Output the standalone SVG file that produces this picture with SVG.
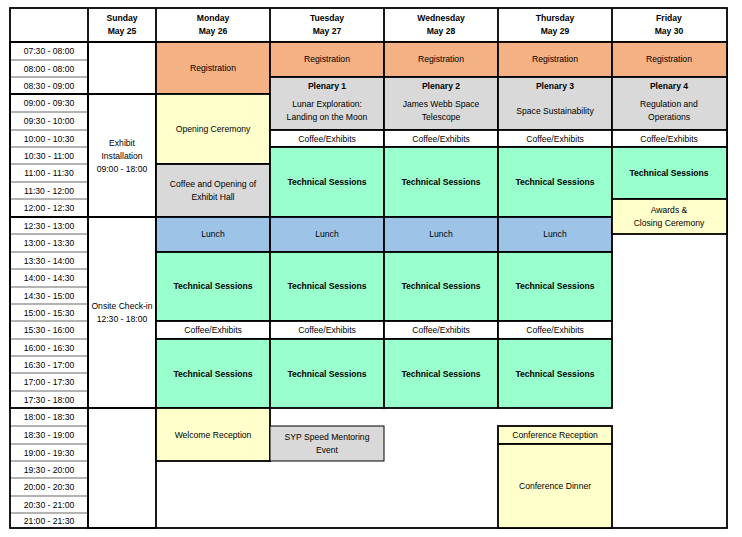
<svg xmlns="http://www.w3.org/2000/svg" width="742" height="537" viewBox="0 0 742 537">
<style>
text{font-family:"Liberation Sans",Arial,sans-serif;font-size:8.6px;fill:#000;text-anchor:middle;dominant-baseline:central}
.b{font-weight:bold}
.g{stroke:#000;stroke-width:0.6}
.ev{stroke:#000;stroke-width:1.8}
.reg{fill:#F4B183}.yel{fill:#FFFFCC}.gry{fill:#D9D9D9}.grn{fill:#99FFCC}.blu{fill:#9DC3E6}.wht{fill:#fff}
</style>
<rect x="0" y="0" width="742" height="537" fill="#fff"/>
<g id="grid">
<g class="g">
<line x1="10" y1="60" x2="88" y2="60"/><line x1="10" y1="77" x2="88" y2="77"/><line x1="10" y1="94" x2="88" y2="94"/><line x1="10" y1="112" x2="88" y2="112"/><line x1="10" y1="130" x2="88" y2="130"/><line x1="10" y1="147" x2="88" y2="147"/><line x1="10" y1="164" x2="88" y2="164"/><line x1="10" y1="182" x2="88" y2="182"/><line x1="10" y1="199" x2="88" y2="199"/><line x1="10" y1="217" x2="88" y2="217"/><line x1="10" y1="234" x2="88" y2="234"/><line x1="10" y1="252" x2="88" y2="252"/><line x1="10" y1="269" x2="88" y2="269"/><line x1="10" y1="287" x2="88" y2="287"/><line x1="10" y1="304" x2="88" y2="304"/><line x1="10" y1="321" x2="88" y2="321"/><line x1="10" y1="339" x2="88" y2="339"/><line x1="10" y1="356" x2="88" y2="356"/><line x1="10" y1="373" x2="88" y2="373"/><line x1="10" y1="391" x2="88" y2="391"/><line x1="10" y1="408" x2="88" y2="408"/><line x1="10" y1="426" x2="88" y2="426"/><line x1="10" y1="444" x2="88" y2="444"/><line x1="10" y1="461" x2="88" y2="461"/><line x1="10" y1="478" x2="88" y2="478"/><line x1="10" y1="496" x2="88" y2="496"/><line x1="10" y1="513" x2="88" y2="513"/>
</g>
<g class="ev" fill="none">
<rect x="10" y="8" width="717" height="520"/>
<line x1="10" y1="42" x2="727" y2="42"/>
<line x1="88" y1="8" x2="88" y2="528"/>
<line x1="156" y1="8" x2="156" y2="42"/><line x1="270" y1="8" x2="270" y2="42"/><line x1="384" y1="8" x2="384" y2="42"/><line x1="498" y1="8" x2="498" y2="42"/><line x1="612" y1="8" x2="612" y2="42"/>
<rect x="10" y="42" width="78" height="52"/><rect x="10" y="94" width="78" height="123"/><rect x="10" y="217" width="78" height="191"/>
<rect x="88" y="42" width="68" height="52"/><rect x="88" y="94" width="68" height="123"/><rect x="88" y="217" width="68" height="191"/><rect x="88" y="408" width="68" height="120"/>
</g>
<g class="b">
<text x="122" y="18">Sunday</text><text x="122" y="31">May 25</text>
<text x="213" y="18">Monday</text><text x="213" y="31">May 26</text>
<text x="327" y="18">Tuesday</text><text x="327" y="31">May 27</text>
<text x="441" y="18">Wednesday</text><text x="441" y="31">May 28</text>
<text x="555" y="18">Thursday</text><text x="555" y="31">May 29</text>
<text x="669" y="18">Friday</text><text x="669" y="31">May 30</text>
</g>
<g>
<text x="49" y="51">07:30 - 08:00</text><text x="49" y="68.5">08:00 - 08:00</text><text x="49" y="85.5">08:30 - 09:00</text><text x="49" y="103">09:00 - 09:30</text><text x="49" y="121">09:30 - 10:00</text><text x="49" y="138.5">10:00 - 10:30</text><text x="49" y="155.5">10:30 - 11:00</text><text x="49" y="173">11:00 - 11:30</text><text x="49" y="190.5">11:30 - 12:00</text><text x="49" y="208">12:00 - 12:30</text><text x="49" y="225.5">12:30 - 13:00</text><text x="49" y="243">13:00 - 13:30</text><text x="49" y="260.5">13:30 - 14:00</text><text x="49" y="278">14:00 - 14:30</text><text x="49" y="295.5">14:30 - 15:00</text><text x="49" y="312.5">15:00 - 15:30</text><text x="49" y="330">15:30 - 16:00</text><text x="49" y="347.5">16:00 - 16:30</text><text x="49" y="364.5">16:30 - 17:00</text><text x="49" y="382">17:00 - 17:30</text><text x="49" y="399.5">17:30 - 18:00</text><text x="49" y="417">18:00 - 18:30</text><text x="49" y="435">18:30 - 19:00</text><text x="49" y="452.5">19:00 - 19:30</text><text x="49" y="469.5">19:30 - 20:00</text><text x="49" y="487">20:00 - 20:30</text><text x="49" y="504.5">20:30 - 21:00</text><text x="49" y="520.5">21:00 - 21:30</text>
</g>
</g>
<g id="sunday">
<text x="122" y="143">Exhibit</text><text x="122" y="156">Installation</text><text x="122" y="169">09:00 - 18:00</text>
<text x="122" y="306">Onsite Check-in</text><text x="122" y="319">12:30 - 18:00</text>
</g>
<g id="monday">
<rect class="ev reg" x="156" y="42" width="114" height="52"/><text x="213" y="68">Registration</text>
<rect class="ev yel" x="156" y="94" width="114" height="70"/><text x="213" y="129">Opening Ceremony</text>
<rect class="ev gry" x="156" y="164" width="114" height="53"/><text x="213" y="184">Coffee and Opening of</text><text x="213" y="197">Exhibit Hall</text>
<rect class="ev blu" x="156" y="217" width="114" height="35"/><text x="213" y="234">Lunch</text>
<rect class="ev grn" x="156" y="252" width="114" height="69"/><text class="b" x="213" y="286">Technical Sessions</text>
<rect class="ev wht" x="156" y="321" width="114" height="18"/><text x="213" y="330">Coffee/Exhibits</text>
<rect class="ev grn" x="156" y="339" width="114" height="69"/><text class="b" x="213" y="374">Technical Sessions</text>
<rect class="ev yel" x="156" y="408" width="114" height="53"/><text x="213" y="435">Welcome Reception</text>
</g>
<g id="tuesday">
<rect class="ev reg" x="270" y="42" width="114" height="35"/><text x="327" y="59">Registration</text>
<rect class="ev gry" x="270" y="77" width="114" height="53"/><text class="b" x="327" y="86">Plenary 1</text><text x="327" y="104">Lunar Exploration:</text><text x="327" y="117">Landing on the Moon</text>
<rect class="ev wht" x="270" y="130" width="114" height="17"/><text x="327" y="138.5">Coffee/Exhibits</text>
<rect class="ev grn" x="270" y="147" width="114" height="70"/><text class="b" x="327" y="182">Technical Sessions</text>
<rect class="ev blu" x="270" y="217" width="114" height="35"/><text x="327" y="234">Lunch</text>
<rect class="ev grn" x="270" y="252" width="114" height="69"/><text class="b" x="327" y="286">Technical Sessions</text>
<rect class="ev wht" x="270" y="321" width="114" height="18"/><text x="327" y="330">Coffee/Exhibits</text>
<rect class="ev grn" x="270" y="339" width="114" height="69"/><text class="b" x="327" y="374">Technical Sessions</text>
<rect class="ev gry" x="270" y="426" width="114" height="35" style="stroke-width:1"/><text x="327" y="437">SYP Speed Mentoring</text><text x="327" y="450">Event</text>
</g>
<g id="wednesday">
<rect class="ev reg" x="384" y="42" width="114" height="35"/><text x="441" y="59">Registration</text>
<rect class="ev gry" x="384" y="77" width="114" height="53"/><text class="b" x="441" y="86">Plenary 2</text><text x="441" y="104">James Webb Space</text><text x="441" y="117">Telescope</text>
<rect class="ev wht" x="384" y="130" width="114" height="17"/><text x="441" y="138.5">Coffee/Exhibits</text>
<rect class="ev grn" x="384" y="147" width="114" height="70"/><text class="b" x="441" y="182">Technical Sessions</text>
<rect class="ev blu" x="384" y="217" width="114" height="35"/><text x="441" y="234">Lunch</text>
<rect class="ev grn" x="384" y="252" width="114" height="69"/><text class="b" x="441" y="286">Technical Sessions</text>
<rect class="ev wht" x="384" y="321" width="114" height="18"/><text x="441" y="330">Coffee/Exhibits</text>
<rect class="ev grn" x="384" y="339" width="114" height="69"/><text class="b" x="441" y="374">Technical Sessions</text>
</g>
<g id="thursday">
<rect class="ev reg" x="498" y="42" width="114" height="35"/><text x="555" y="59">Registration</text>
<rect class="ev gry" x="498" y="77" width="114" height="53"/><text class="b" x="555" y="86">Plenary 3</text><text x="555" y="111">Space Sustainability</text>
<rect class="ev wht" x="498" y="130" width="114" height="17"/><text x="555" y="138.5">Coffee/Exhibits</text>
<rect class="ev grn" x="498" y="147" width="114" height="70"/><text class="b" x="555" y="182">Technical Sessions</text>
<rect class="ev blu" x="498" y="217" width="114" height="35"/><text x="555" y="234">Lunch</text>
<rect class="ev grn" x="498" y="252" width="114" height="69"/><text class="b" x="555" y="286">Technical Sessions</text>
<rect class="ev wht" x="498" y="321" width="114" height="18"/><text x="555" y="330">Coffee/Exhibits</text>
<rect class="ev grn" x="498" y="339" width="114" height="69"/><text class="b" x="555" y="374">Technical Sessions</text>
<rect class="ev yel" x="498" y="426" width="114" height="18"/><text x="555" y="435">Conference Reception</text>
<rect class="ev yel" x="498" y="444" width="114" height="84"/><text x="555" y="486">Conference Dinner</text>
</g>
<g id="friday">
<rect class="ev reg" x="612" y="42" width="115" height="35"/><text x="669" y="59">Registration</text>
<rect class="ev gry" x="612" y="77" width="115" height="53"/><text class="b" x="669" y="86">Plenary 4</text><text x="669" y="104">Regulation and</text><text x="669" y="117">Operations</text>
<rect class="ev wht" x="612" y="130" width="115" height="17"/><text x="669" y="138.5">Coffee/Exhibits</text>
<rect class="ev grn" x="612" y="147" width="115" height="52"/><text class="b" x="669" y="173">Technical Sessions</text>
<rect class="ev yel" x="612" y="199" width="115" height="35"/><text x="669" y="210">Awards &amp;</text><text x="669" y="223">Closing Ceremony</text>
</g>
<g id="connectors"/>
</svg>
